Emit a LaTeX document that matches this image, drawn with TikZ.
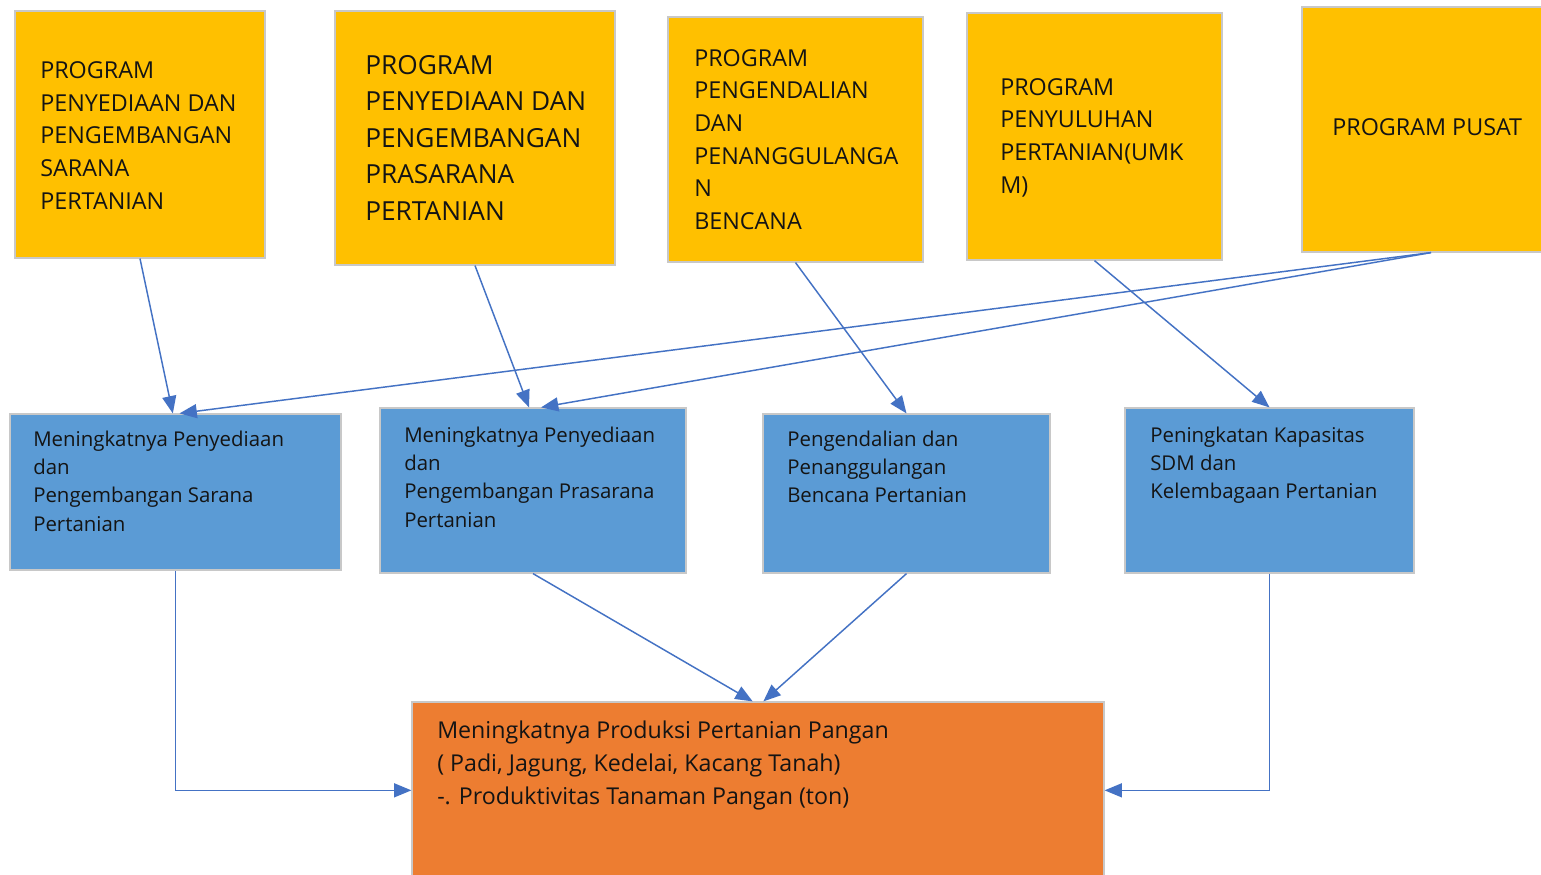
\documentclass[tikz,border=0pt]{standalone}
\usepackage{fontspec}
\setmainfont{Open Sans}
\usetikzlibrary{arrows.meta}
\definecolor{ygold}{HTML}{FFC000}
\definecolor{bblue}{HTML}{5B9BD5}
\definecolor{oorange}{HTML}{ED7D31}
\definecolor{ablue}{HTML}{4472C4}
\definecolor{bgray}{HTML}{C8C8C8}
\definecolor{tblack}{HTML}{141414}
\newcommand\firstline[1]{\rule{0pt}{#1}}
\begin{document}
\begin{tikzpicture}[x=0.75pt,y=-0.75pt,
  box/.style={draw=bgray, line width=0.9pt, inner sep=0pt, rectangle},
  ybox/.style={box, fill=ygold},
  bbox/.style={box, fill=bblue},
  obox/.style={box, fill=oorange},
  txt/.style={anchor=north west, inner sep=0pt, align=left, text=tblack},
  ytxt/.style={txt, font=\fontsize{17.5pt}{24.6pt}\selectfont},
  btxt/.style={txt, font=\fontsize{15.3pt}{21.2pt}\selectfont},
  conn/.style={draw=ablue, line width=1.1pt, -{Triangle[length=13pt,width=10.5pt]}}]
\useasboundingbox (0,0) rectangle (1541,874);
\clip (0,0) rectangle (1541,874);
\fill[white] (0,0) rectangle (1541,874);
% yellow program boxes
\node[ybox, minimum width=187.5pt, minimum height=185.25pt] (Y1) at (140,134.5) {};
\node[ybox, minimum width=210pt, minimum height=190.5pt] (Y2) at (475,138) {};
\node[ybox, minimum width=191.25pt, minimum height=183.75pt] (Y3) at (795.5,139.5) {};
\node[ybox, minimum width=191.25pt, minimum height=185.25pt] (Y4) at (1094.5,136.5) {};
\node[ybox, minimum width=193.5pt, minimum height=183.75pt] (Y5) at (1431,129.5) {};
% blue outcome boxes
\node[bbox, minimum width=248.25pt, minimum height=117pt] (B1) at (175.5,492) {};
\node[bbox, minimum width=229.5pt, minimum height=123.75pt] (B2) at (533,490.5) {};
\node[bbox, minimum width=215.25pt, minimum height=119.25pt] (B3) at (906.5,493.5) {};
\node[bbox, minimum width=216.75pt, minimum height=123.75pt] (B4) at (1269.5,490.5) {};
% orange goal box
\node[obox, minimum width=519pt, minimum height=148.5pt] (O) at (758,801) {};
% texts
\node[ytxt] (T1) at (40,59.3) {\firstline{14pt}PROGRAM\\PENYEDIAAN DAN\\PENGEMBANGAN\\SARANA\\PERTANIAN};
\node[txt, font=\fontsize{19.7pt}{27.4pt}\selectfont] (T2) at (365,52.7) {\firstline{16pt}PROGRAM\\PENYEDIAAN DAN\\PENGEMBANGAN\\PRASARANA\\PERTANIAN};
\node[txt, font=\fontsize{17.5pt}{24.5pt}\selectfont] (T3) at (694,47.3) {\firstline{14pt}PROGRAM\\PENGENDALIAN\\DAN\\PENANGGULANGA\\N\\BENCANA};
\node[txt, font=\fontsize{17.5pt}{24.5pt}\selectfont] (T4) at (1000,76.3) {\firstline{14pt}PROGRAM\\PENYULUHAN\\PERTANIAN(UMK\\M)};
\node[ytxt] (T5) at (1332,116.3) {\firstline{14pt}PROGRAM PUSAT};
\node[btxt] (S1) at (33,430) {\firstline{12pt}Meningkatnya Penyediaan\\dan\\Pengembangan Sarana\\Pertanian};
\node[btxt] (S2) at (404,426) {\firstline{12pt}Meningkatnya Penyediaan\\dan\\Pengembangan Prasarana\\Pertanian};
\node[btxt] (S3) at (787,430) {\firstline{12pt}Pengendalian dan\\Penanggulangan\\Bencana Pertanian};
\node[btxt] (S4) at (1150,426) {\firstline{12pt}Peningkatan Kapasitas\\SDM dan\\Kelembagaan Pertanian};
\node[txt, font=\fontsize{17.4pt}{24.75pt}\selectfont] (G) at (437,719.3) {\firstline{14pt}Meningkatnya Produksi Pertanian Pangan\\( Padi, Jagung, Kedelai, Kacang Tanah)\\-. Produktivitas Tanaman Pangan (ton)};
% connectors
\draw[conn] (Y1.south) -- ([xshift=-2pt]B1.north);
\draw[conn] (Y5.south) -- ([xshift=3pt]B1.north);
\draw[conn] (Y2.south) -- ([xshift=-3pt]B2.north);
\draw[conn] (Y5.south) -- ([xshift=6pt]B2.north);
\draw[conn] (Y3.south) -- (B3.north);
\draw[conn] (Y4.south) -- (B4.north);
\draw[conn] (B2.south) -- ([xshift=-4pt]O.north);
\draw[conn] (B3.south) -- ([xshift=4pt]O.north);
\draw[conn] (B1.south) |- ([yshift=8pt]O.west);
\draw[conn] (B4.south) |- ([yshift=8pt]O.east);
\end{tikzpicture}
\end{document}
